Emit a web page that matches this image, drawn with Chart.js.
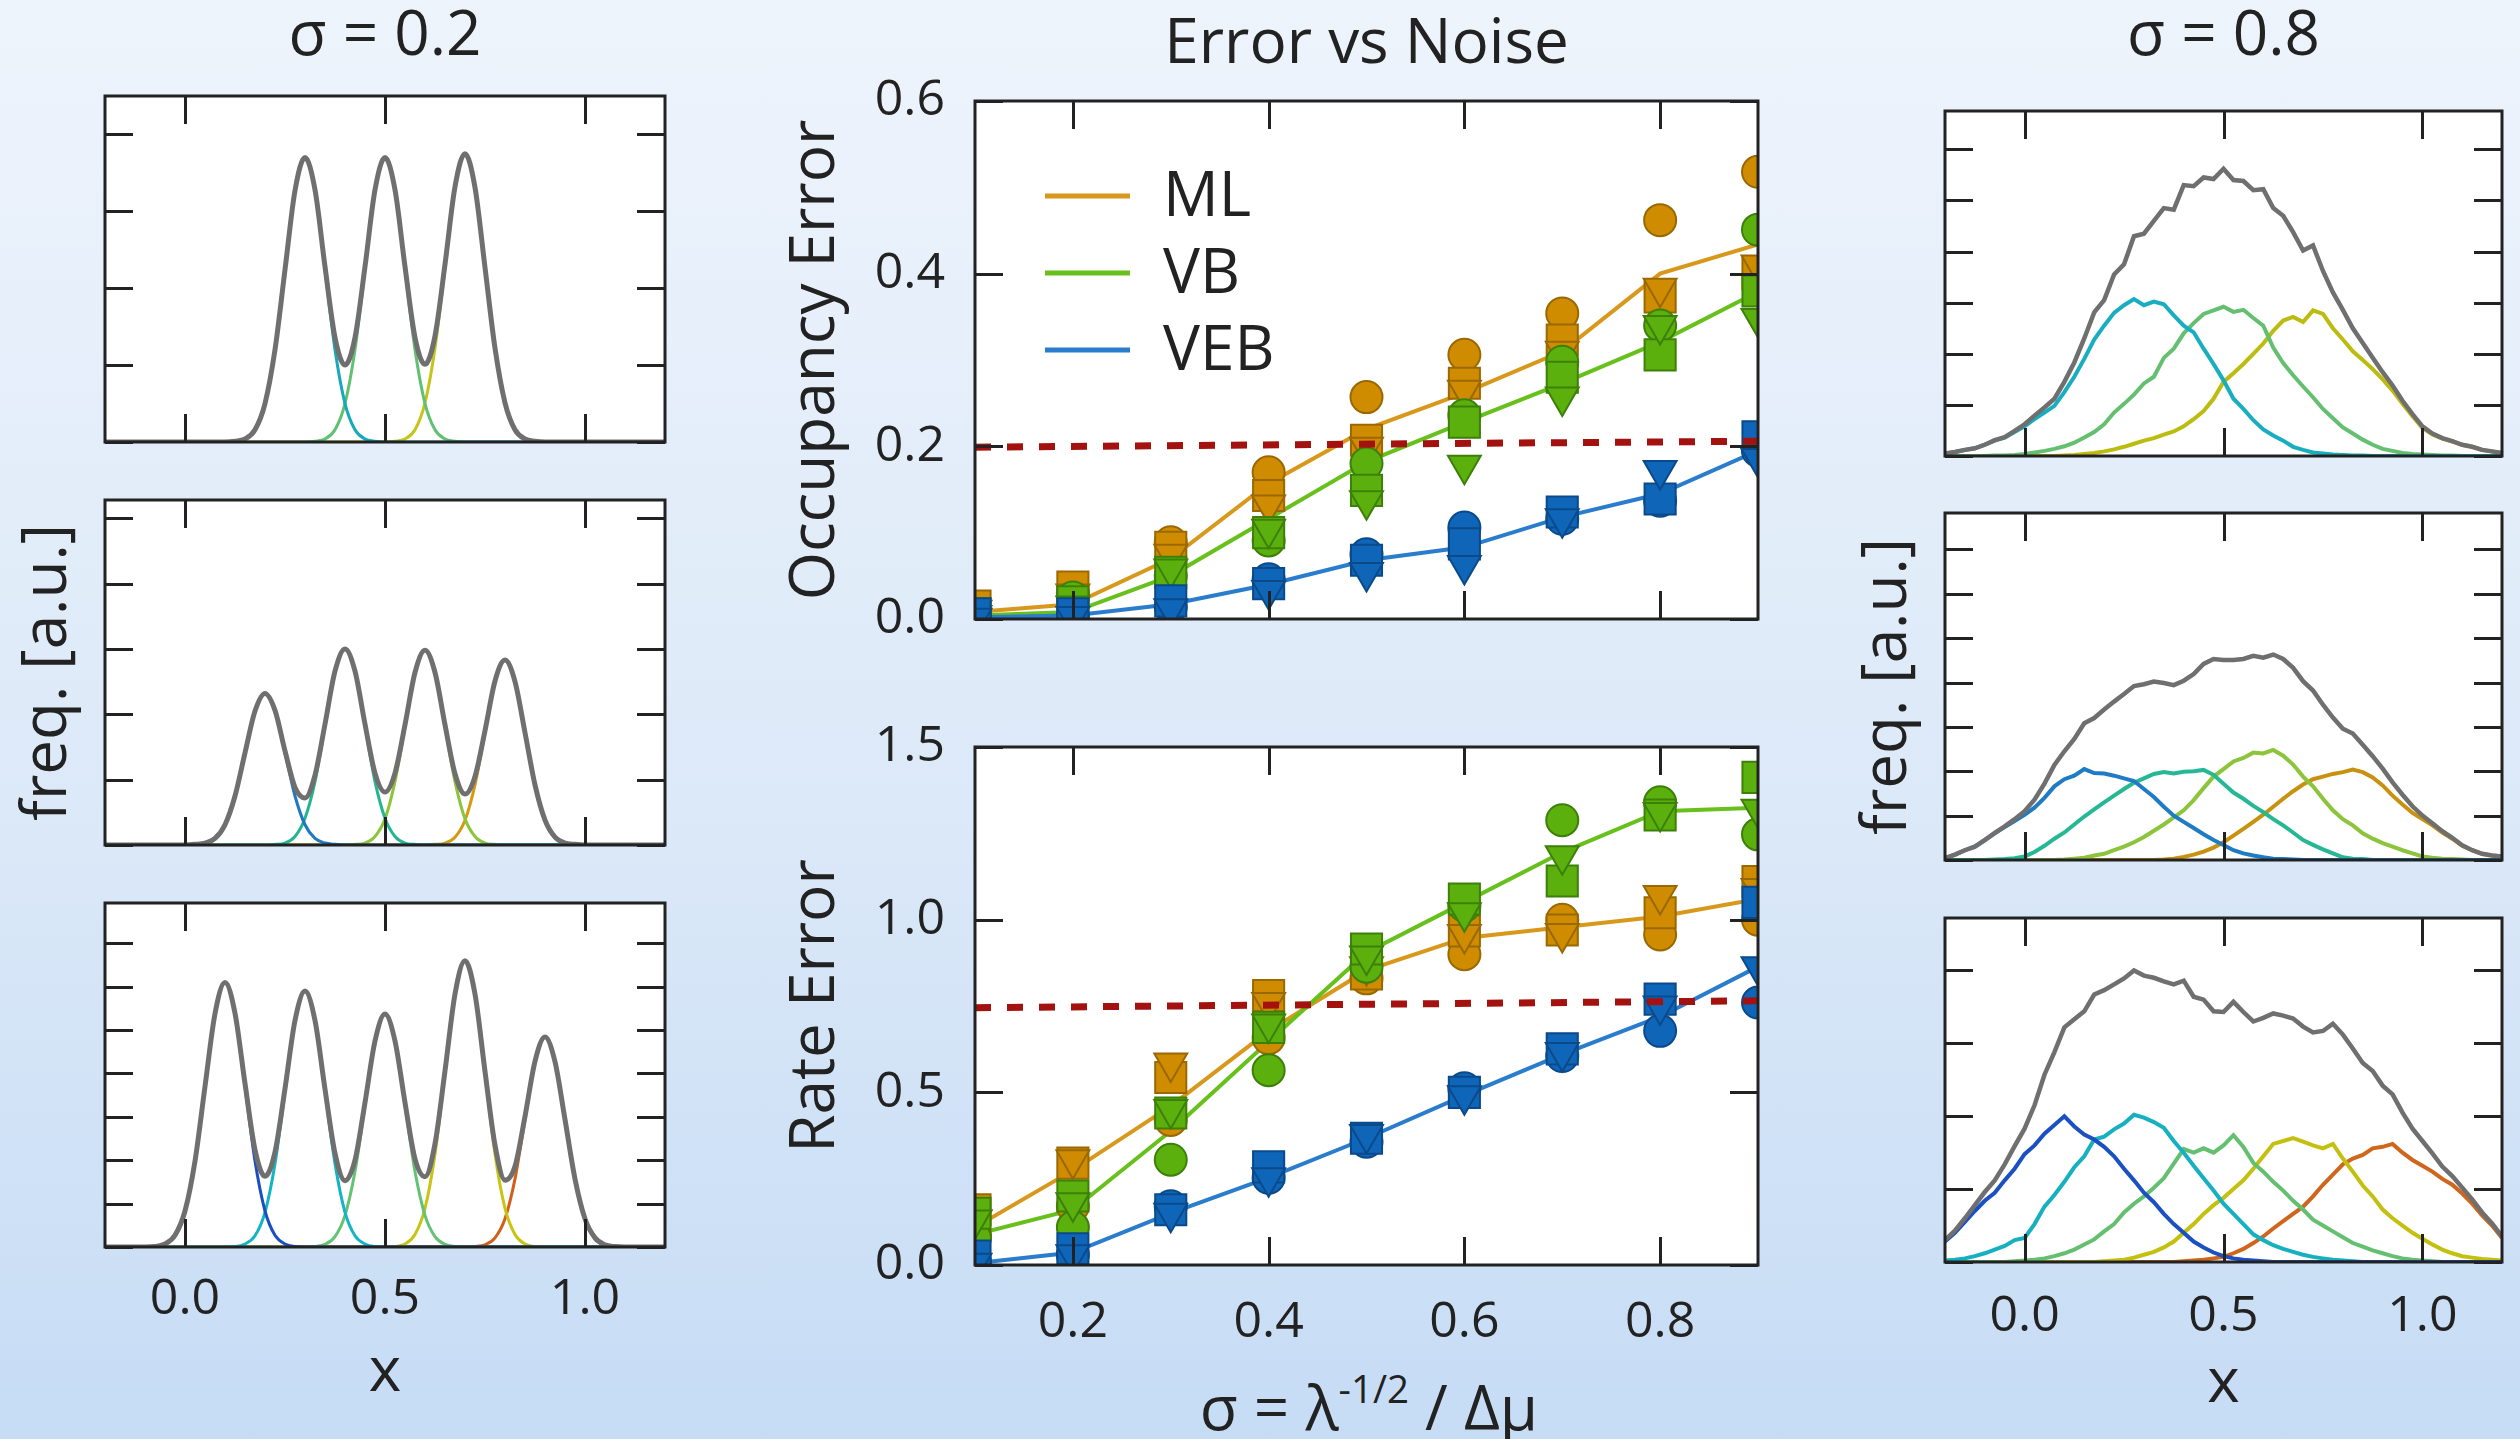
<!DOCTYPE html>
<html>
<head>
<meta charset="utf-8">
<title>Error vs Noise</title>
<script src="https://cdn.jsdelivr.net/npm/chart.js@4.4.1/dist/chart.umd.min.js"></script>
<style>
  html, body { margin: 0; padding: 0; }
  body {
    width: 2520px; height: 1439px; overflow: hidden; position: relative;
    background: linear-gradient(180deg, #eef4fc 0%, #dce9f8 55%, #c6dcf5 100%);
    font-family: "Open Sans", sans-serif; color: #222;
  }
  canvas { position: absolute; }
  .xlabel {
    position: absolute; left: 1369px; top: 1406px; transform: translate(-50%, -50%);
    font-size: 62px; white-space: nowrap; line-height: 1;
  }
  .xlabel sup { font-size: 0.62em; vertical-align: 0.7em; line-height: 0; }
</style>
</head>
<body>
<div class="xlabel">σ = λ<sup>-1/2</sup> / Δμ</div>
<script>
"use strict";

// ---------- side panels: histograms on a common x grid ----------
let SIDE_X = [-0.2,-0.175,-0.15,-0.125,-0.1,-0.075,-0.05,-0.025,0,0.025,0.05,0.075,0.1,0.125,0.15,0.175,
    0.2,0.225,0.25,0.275,0.3,0.325,0.35,0.375,0.4,0.425,0.45,0.475,0.5,0.525,0.55,0.575,
    0.6,0.625,0.65,0.675,0.7,0.725,0.75,0.775,0.8,0.825,0.85,0.875,0.9,0.925,0.95,0.975,
    1,1.025,1.05,1.075,1.1,1.125,1.15,1.175,1.2];
let SIDE_X_TICKS = [0, 0.5, 1];
let SIDE_X_LABELS = ["0.0", "0.5", "1.0"];

// sigma = 0.2, three states
let L1_SUM = [0,0,0,0,0,0,0,0,0,0,0,0,0,
    0.01,0.04,0.16,0.5,1.2,2.24,3.27,3.7,3.28,2.28,1.36,1.0,1.36,2.28,3.28,3.7,3.28,2.28,1.36,1.01,1.38,2.31,3.32,3.75,3.31,2.27,1.22,0.51,0.16,0.04,0.01,
    0,0,0,0,0,0,0,0,0,0,0,0,0];
let L1_C1 = [0,0,0,0,0,0,0,0,0,0,0,0,0,
    0.01,0.04,0.16,0.5,1.2,2.24,3.27,3.7,3.27,2.24,1.2,0.5,0.16,0.04,0.01,
    0,0,0,0,0,0,0,0,0,0,0,0,0,0,0,0,0,0,0,0,0,0,0,0,0,0,0,0,0];
let L1_C2 = [0,0,0,0,0,0,0,0,0,0,0,0,0,0,0,0,0,0,0,0,0,
    0.01,0.04,0.16,0.5,1.2,2.24,3.27,3.7,3.27,2.24,1.2,0.5,0.16,0.04,0.01,
    0,0,0,0,0,0,0,0,0,0,0,0,0,0,0,0,0,0,0,0,0];
let L1_C3 = [0,0,0,0,0,0,0,0,0,0,0,0,0,0,0,0,0,0,0,0,0,0,0,0,0,0,0,0,0,
    0.01,0.04,0.16,0.51,1.22,2.27,3.31,3.75,3.31,2.27,1.22,0.51,0.16,0.04,0.01,
    0,0,0,0,0,0,0,0,0,0,0,0,0];

// sigma = 0.2, four states
let L2_SUM = [0,0,0,0,0,0,0,0,0,
    0.01,0.03,0.1,0.31,0.75,1.41,2.05,2.32,2.06,1.44,0.88,0.72,1.07,1.85,2.66,3.0,
    2.66,1.85,1.1,0.81,1.1,1.84,2.64,2.98,2.64,1.84,1.09,0.78,1.05,1.75,2.51,2.83,
    2.5,1.72,0.92,0.38,0.12,0.03,0.01,
    0,0,0,0,0,0,0,0,0];
let L2_C1 = [0,0,0,0,0,0,0,0,0,
    0.01,0.03,0.1,0.31,0.75,1.41,2.05,2.32,2.05,1.41,0.75,0.31,0.1,0.03,0.01,
    0,0,0,0,0,0,0,0,0,0,0,0,0,0,0,0,0,0,0,0,0,0,0,0,0,0,0,0,0,0,0,0,0];
let L2_C2 = [0,0,0,0,0,0,0,0,0,0,0,0,0,0,0,0,0,
    0.01,0.03,0.13,0.41,0.97,1.82,2.65,3.0,2.65,1.82,0.97,0.41,0.13,0.03,0.01,
    0,0,0,0,0,0,0,0,0,0,0,0,0,0,0,0,0,0,0,0,0,0,0,0,0];
let L2_C3 = [0,0,0,0,0,0,0,0,0,0,0,0,0,0,0,0,0,0,0,0,0,0,0,0,0,
    0.01,0.03,0.13,0.4,0.97,1.81,2.63,2.98,2.63,1.81,0.97,0.4,0.13,0.03,0.01,
    0,0,0,0,0,0,0,0,0,0,0,0,0,0,0,0,0];
let L2_C4 = [0,0,0,0,0,0,0,0,0,0,0,0,0,0,0,0,0,0,0,0,0,0,0,0,0,0,0,0,0,0,0,0,0,
    0.01,0.03,0.12,0.38,0.92,1.72,2.5,2.83,2.5,1.72,0.92,0.38,0.12,0.03,0.01,
    0,0,0,0,0,0,0,0,0];

// sigma = 0.2, five states
let L3_SUM = [0,0,0,0,0,
    0.01,0.07,0.27,0.83,1.98,3.7,5.38,6.1,5.39,3.77,2.24,1.63,2.19,3.65,5.22,5.9,
    5.22,3.64,2.16,1.53,2.0,3.33,4.75,5.37,4.75,3.33,2.03,1.62,2.38,4.06,5.83,6.6,
    5.83,4.05,2.35,1.54,1.86,3.01,4.28,4.84,4.27,2.94,1.57,0.65,0.21,0.05,0.01,
    0,0,0,0,0];
let L3_C1 = [0,0,0,0,0,
    0.01,0.07,0.27,0.83,1.98,3.7,5.38,6.1,5.38,3.7,1.98,0.83,0.27,0.07,0.01,
    0,0,0,0,0,0,0,0,0,0,0,0,0,0,0,0,0,0,0,0,0,0,0,0,0,0,0,0,0,0,0,0,0,0,0,0,0];
let L3_C2 = [0,0,0,0,0,0,0,0,0,0,0,0,0,
    0.01,0.07,0.26,0.8,1.92,3.58,5.21,5.9,5.21,3.58,1.92,0.8,0.26,0.07,0.01,
    0,0,0,0,0,0,0,0,0,0,0,0,0,0,0,0,0,0,0,0,0,0,0,0,0,0,0,0,0];
let L3_C3 = [0,0,0,0,0,0,0,0,0,0,0,0,0,0,0,0,0,0,0,0,0,
    0.01,0.06,0.24,0.73,1.74,3.26,4.74,5.37,4.74,3.26,1.74,0.73,0.24,0.06,0.01,
    0,0,0,0,0,0,0,0,0,0,0,0,0,0,0,0,0,0,0,0,0];
let L3_C4 = [0,0,0,0,0,0,0,0,0,0,0,0,0,0,0,0,0,0,0,0,0,0,0,0,0,0,0,0,0,
    0.01,0.07,0.29,0.89,2.14,4.0,5.82,6.6,5.82,4.0,2.14,0.89,0.29,0.07,0.01,
    0,0,0,0,0,0,0,0,0,0,0,0,0];
let L3_C5 = [0,0,0,0,0,0,0,0,0,0,0,0,0,0,0,0,0,0,0,0,0,0,0,0,0,0,0,0,0,0,0,0,0,0,0,0,0,
    0.01,0.05,0.21,0.65,1.57,2.94,4.27,4.84,4.27,2.94,1.57,0.65,0.21,0.05,0.01,
    0,0,0,0,0];

// sigma = 0.8, three states
let R1_SUM = [0.05,0.08,0.12,0.15,0.22,0.31,0.37,0.49, 0.62,0.79,0.95,1.12,1.45,1.83,2.3,2.81,
    3.05,3.55,3.75,4.3,4.35,4.6,4.85,4.82, 5.3,5.28,5.45,5.42,5.62,5.4,5.38,5.2,
    5.22,4.85,4.7,4.38,4.02,4.12,3.62,3.2, 2.86,2.5,2.21,1.92,1.64,1.38,1.08,0.82,
    0.58,0.44,0.35,0.29,0.22,0.18,0.12,0.09,0.06];
let R1_C1 = [0.05,0.08,0.12,0.15,0.22,0.3,0.36,0.47, 0.58,0.72,0.85,0.98,1.25,1.55,1.9,2.28,
    2.55,2.8,2.95,3.07,2.95,3.02,2.97,2.75, 2.55,2.42,2.1,1.8,1.48,1.12,0.92,0.7,
    0.52,0.4,0.3,0.18,0.12,0.07,0.05,0.03, 0.02,0.01,0.01,0,0,0,0,0,
    0,0,0,0,0,0,0,0,0];
let R1_C2 = [0,0,0,0,0,0.01,0.01,0.02, 0.04,0.07,0.1,0.14,0.19,0.26,0.36,0.47,
    0.62,0.85,1.02,1.2,1.42,1.55,1.92,2.1, 2.4,2.6,2.78,2.85,2.92,2.82,2.86,2.7,
    2.55,2.12,1.82,1.58,1.36,1.15,0.92,0.74, 0.56,0.44,0.32,0.22,0.14,0.1,0.06,0.04,
    0.03,0.02,0.01,0.01,0,0,0,0,0];
let R1_C3 = [0,0,0,0,0,0,0,0, 0,0,0,0,0.01,0.02,0.04,0.06,
    0.09,0.13,0.18,0.24,0.3,0.35,0.42,0.48, 0.58,0.72,0.88,1.12,1.45,1.62,1.8,2.0,
    2.2,2.45,2.65,2.72,2.62,2.85,2.78,2.5, 2.28,2.05,1.88,1.7,1.5,1.28,1.02,0.78,
    0.55,0.42,0.34,0.28,0.22,0.18,0.12,0.09,0.06];

// sigma = 0.8, four states
let R2_SUM = [0.04,0.12,0.22,0.3,0.45,0.61,0.76,0.92, 1.1,1.36,1.72,2.14,2.45,2.73,3.08,3.2,
    3.39,3.57,3.74,3.92,3.96,4.02,3.99,3.94, 4.04,4.19,4.42,4.53,4.51,4.51,4.53,4.6,
    4.56,4.63,4.53,4.33,4.03,3.82,3.5,3.21, 2.96,2.85,2.6,2.34,2.06,1.75,1.47,1.21,
    1.0,0.83,0.65,0.5,0.33,0.22,0.14,0.1,0.08];
let R2_C1 = [0.04,0.12,0.22,0.3,0.45,0.6,0.74,0.88, 1.02,1.18,1.4,1.66,1.82,1.9,2.05,1.96,
    1.95,1.9,1.84,1.78,1.6,1.42,1.2,1.0, 0.86,0.72,0.58,0.45,0.34,0.22,0.15,0.1,
    0.06,0.03,0.02,0.01,0,0,0,0, 0,0,0,0,0,0,0,0,
    0,0,0,0,0,0,0,0,0];
let R2_C2 = [0,0,0,0,0,0.01,0.02,0.04, 0.08,0.18,0.32,0.48,0.62,0.8,0.98,1.14,
    1.3,1.45,1.6,1.74,1.84,1.94,1.98,1.95, 1.99,2.0,2.03,1.92,1.72,1.52,1.38,1.22,
    1.08,0.92,0.78,0.62,0.45,0.34,0.24,0.15, 0.06,0.03,0.02,0,0,0,0,0,
    0,0,0,0,0,0,0,0,0];
let R2_C3 = [0,0,0,0,0,0,0,0, 0,0,0,0,0.01,0.03,0.05,0.1,
    0.14,0.22,0.3,0.4,0.52,0.66,0.8,0.96, 1.12,1.35,1.62,1.88,2.05,2.22,2.3,2.42,
    2.4,2.48,2.35,2.15,1.88,1.66,1.38,1.12, 0.92,0.78,0.6,0.48,0.38,0.3,0.22,0.15,
    0.08,0.05,0.03,0.02,0.01,0,0,0,0];
let R2_C4 = [0,0,0,0,0,0,0,0, 0,0,0,0,0,0,0,0,
    0,0,0,0,0,0,0.01,0.03, 0.07,0.12,0.19,0.28,0.4,0.55,0.7,0.86,
    1.02,1.2,1.38,1.55,1.7,1.82,1.88,1.94, 1.98,2.04,1.98,1.86,1.68,1.45,1.25,1.06,
    0.92,0.78,0.62,0.48,0.32,0.22,0.14,0.1,0.08];

// sigma = 0.8, five states
let R3_SUM = [0.3,0.43,0.6,0.78,0.96,1.12,1.34,1.59, 1.83,2.15,2.57,2.88,3.22,3.33,3.44,3.67,
    3.73,3.81,3.89,4.0,3.93,3.9,3.85,3.81, 3.86,3.64,3.6,3.44,3.43,3.57,3.43,3.3,
    3.35,3.41,3.38,3.34,3.23,3.15,3.17,3.27, 3.12,2.93,2.73,2.62,2.42,2.3,2.05,1.83,
    1.66,1.49,1.31,1.18,1.02,0.86,0.68,0.53,0.35];
let R3_C1 = [0.28,0.4,0.55,0.7,0.84,0.95,1.12,1.28, 1.48,1.6,1.76,1.88,2.0,1.86,1.75,1.68,
    1.58,1.45,1.28,1.12,0.95,0.82,0.66,0.52, 0.4,0.28,0.2,0.13,0.08,0.05,0.03,0.02,
    0.01,0,0,0,0,0,0,0, 0,0,0,0,0,0,0,0,
    0,0,0,0,0,0,0,0,0];
let R3_C2 = [0.02,0.03,0.05,0.08,0.12,0.17,0.22,0.3, 0.33,0.52,0.76,0.92,1.1,1.3,1.45,1.68,
    1.72,1.82,1.9,2.02,1.98,1.92,1.84,1.66, 1.5,1.32,1.15,0.98,0.8,0.66,0.52,0.38,
    0.3,0.23,0.18,0.14,0.1,0.07,0.05,0.03, 0.02,0.01,0,0,0,0,0,0,
    0,0,0,0,0,0,0,0,0];
let R3_C3 = [0,0,0,0,0,0,0,0.01, 0.02,0.03,0.05,0.08,0.12,0.17,0.24,0.31,
    0.42,0.52,0.68,0.8,0.9,1.02,1.15,1.35, 1.55,1.5,1.56,1.5,1.6,1.74,1.58,1.36,
    1.24,1.1,0.98,0.84,0.72,0.58,0.5,0.42, 0.34,0.26,0.21,0.16,0.12,0.08,0.05,0.03,
    0.02,0.01,0,0,0,0,0,0,0];
let R3_C4 = [0,0,0,0,0,0,0,0, 0,0,0,0,0,0,0,0,
    0.01,0.02,0.03,0.06,0.1,0.14,0.2,0.28, 0.4,0.52,0.66,0.78,0.88,1.0,1.12,1.28,
    1.45,1.62,1.66,1.7,1.65,1.6,1.56,1.62, 1.42,1.24,1.05,0.9,0.72,0.6,0.5,0.4,
    0.32,0.24,0.17,0.12,0.08,0.06,0.04,0.03,0.02];
let R3_C5 = [0,0,0,0,0,0,0,0, 0,0,0,0,0,0,0,0,
    0,0,0,0,0,0,0,0, 0.01,0.02,0.03,0.05,0.07,0.12,0.18,0.26,
    0.35,0.46,0.56,0.66,0.76,0.9,1.06,1.2, 1.34,1.42,1.47,1.56,1.58,1.62,1.5,1.4,
    1.32,1.24,1.14,1.06,0.94,0.8,0.64,0.5,0.33];

// ---------- middle panels: error vs noise ----------
let SIGMA = [0.1, 0.2, 0.3, 0.4, 0.5, 0.6, 0.7, 0.8, 0.9];
let SIGMA_TICKS = [0.2, 0.4, 0.6, 0.8];
let SIGMA_LABELS = ["0.2", "0.4", "0.6", "0.8"];
let OCC_TICKS = [0, 0.2, 0.4, 0.6];
let OCC_LABELS = ["0.0", "0.2", "0.4", "0.6"];
let RATE_TICKS = [0, 0.5, 1.0, 1.5];
let RATE_LABELS = ["0.0", "0.5", "1.0", "1.5"];

let OCC_ML_MEAN  = [0.008, 0.017, 0.07, 0.157, 0.22, 0.262, 0.31, 0.40, 0.434];
let OCC_ML_CIRC  = [0.008, 0.03, 0.089, 0.17, 0.257, 0.306, 0.354, 0.462, 0.518];
let OCC_ML_SQR   = [0.015, 0.037, 0.083, 0.143, 0.207, 0.273, 0.323, 0.373, 0.40];
let OCC_ML_TRI   = [0.010, 0.029, 0.075, 0.132, 0.199, 0.265, 0.31, 0.383, 0.41];
let OCC_VB_MEAN  = [0.004, 0.008, 0.05, 0.116, 0.182, 0.228, 0.273, 0.321, 0.379];
let OCC_VB_CIRC  = [0.004, 0.025, 0.05, 0.091, 0.18, 0.236, 0.298, 0.34, 0.451];
let OCC_VB_SQR   = [0.006, 0.02, 0.054, 0.10, 0.149, 0.228, 0.28, 0.306, 0.38];
let OCC_VB_TRI   = [0.004, 0.015, 0.058, 0.104, 0.137, 0.178, 0.257, 0.34, 0.348];
let OCC_VEB_MEAN = [0.002, 0.004, 0.017, 0.04, 0.068, 0.083, 0.118, 0.145, 0.195];
let OCC_VEB_CIRC = [0.002, 0.004, 0.014, 0.046, 0.075, 0.106, 0.116, 0.137, 0.195];
let OCC_VEB_SQR  = [0.006, 0.006, 0.021, 0.041, 0.068, 0.087, 0.124, 0.139, 0.211];
let OCC_VEB_TRI  = [0.001, 0.003, 0.012, 0.033, 0.054, 0.062, 0.116, 0.172, 0.186];
let OCC_LIMIT    = [0.199, 0.206];

let RATE_ML_MEAN  = [0.109, 0.274, 0.46, 0.678, 0.853, 0.947, 0.978, 1.009, 1.06];
let RATE_ML_CIRC  = [0.088, 0.17, 0.42, 0.657, 0.83, 0.90, 1.0, 0.957, 1.0];
let RATE_ML_SQR   = [0.16, 0.295, 0.543, 0.78, 0.843, 0.967, 0.97, 1.02, 1.11];
let RATE_ML_TRI   = [0.13, 0.305, 0.585, 0.76, 0.864, 0.957, 0.96, 1.07, 1.09];
let RATE_VB_MEAN  = [0.088, 0.16, 0.388, 0.647, 0.905, 1.05, 1.195, 1.314, 1.324];
let RATE_VB_CIRC  = [0.078, 0.109, 0.305, 0.564, 0.864, 1.04, 1.288, 1.34, 1.247];
let RATE_VB_SQR   = [0.15, 0.20, 0.44, 0.688, 0.915, 1.06, 1.112, 1.303, 1.412];
let RATE_VB_TRI   = [0.13, 0.18, 0.45, 0.698, 0.895, 1.02, 1.185, 1.31, 1.32];
let RATE_VEB_MEAN = [0.005, 0.036, 0.15, 0.253, 0.367, 0.491, 0.61, 0.719, 0.864];
let RATE_VEB_CIRC = [0.01, 0.03, 0.17, 0.253, 0.357, 0.512, 0.605, 0.678, 0.76];
let RATE_VEB_SQR  = [0.026, 0.047, 0.16, 0.284, 0.367, 0.50, 0.626, 0.77, 1.05];
let RATE_VEB_TRI  = [0.005, 0.03, 0.15, 0.253, 0.378, 0.49, 0.615, 0.75, 0.864];
let RATE_LIMIT    = [0.745, 0.765];

// ---------- styling ----------
let GRAY = "#6f6f6f";
let INK = "#222222";
let METHODS = [
    { name: "ML",  line: "#d8981c", fill: "#d08c00", edge: "#9a6800" },
    { name: "VB",  line: "#68c01c", fill: "#5cb00e", edge: "#3c8008" },
    { name: "VEB", line: "#2a7ccc", fill: "#0f66b8", edge: "#0a4a8a" }
];

Chart.defaults.font.family = "'Open Sans', sans-serif";
Chart.defaults.color = INK;

[L1_SUM, L1_C1, L1_C2, L1_C3, L2_SUM, L2_C1, L2_C2, L2_C3, L2_C4,
 L3_SUM, L3_C1, L3_C2, L3_C3, L3_C4, L3_C5, R1_SUM, R1_C1, R1_C2, R1_C3,
 R2_SUM, R2_C1, R2_C2, R2_C3, R2_C4, R3_SUM, R3_C1, R3_C2, R3_C3, R3_C4, R3_C5].forEach(function(a, i) {
    if (a.length !== SIDE_X.length) {
        throw new Error("series " + i + " has " + a.length + " values");
    }
});

// white plot area, box and inward ticks on all four sides
let plotFrame = {
    id: "plotFrame",
    beforeDraw: function(chart) {
        let a = chart.chartArea;
        let ctx = chart.ctx;
        ctx.save();
        ctx.fillStyle = "#ffffff";
        ctx.fillRect(a.left, a.top, a.right - a.left, a.bottom - a.top);
        ctx.restore();
    },
    afterDraw: function(chart) {
        let a = chart.chartArea;
        let ctx = chart.ctx;
        let len = 28;
        let xs = chart.scales.x;
        let ys = chart.scales.y;
        ctx.save();
        ctx.strokeStyle = INK;
        ctx.lineWidth = 3;
        ctx.beginPath();
        xs.ticks.forEach(function(t) {
            let p = Math.round(xs.getPixelForValue(t.value)) + 0.5;
            ctx.moveTo(p, a.bottom); ctx.lineTo(p, a.bottom - len);
            ctx.moveTo(p, a.top); ctx.lineTo(p, a.top + len);
        });
        ys.ticks.forEach(function(t) {
            let p = Math.round(ys.getPixelForValue(t.value)) + 0.5;
            ctx.moveTo(a.left, p); ctx.lineTo(a.left + len, p);
            ctx.moveTo(a.right, p); ctx.lineTo(a.right - len, p);
        });
        ctx.stroke();
        ctx.strokeRect(a.left, a.top, a.right - a.left, a.bottom - a.top);
        ctx.restore();
    }
};

// line key drawn inside the plot, top left
let lineKey = {
    id: "lineKey",
    afterDatasetsDraw: function(chart) {
        let keyed = chart.data.datasets.filter(function(d) { return d.keyed; });
        if (!keyed.length) return;
        let a = chart.chartArea;
        let ctx = chart.ctx;
        ctx.save();
        ctx.font = "62px 'Open Sans', sans-serif";
        ctx.textBaseline = "middle";
        keyed.forEach(function(d, i) {
            let y = a.top + 95 + i * 77;
            ctx.strokeStyle = d.borderColor;
            ctx.lineWidth = 5;
            ctx.beginPath();
            ctx.moveTo(a.left + 70, y);
            ctx.lineTo(a.left + 155, y);
            ctx.stroke();
            ctx.fillStyle = INK;
            ctx.fillText(d.label, a.left + 188, y + 2);
        });
        ctx.restore();
    }
};

Chart.register(plotFrame, lineKey);

function makeCanvas(left, top, width, height) {
    let c = document.createElement("canvas");
    c.width = width;
    c.height = height;
    c.style.left = left + "px";
    c.style.top = top + "px";
    c.style.width = width + "px";
    c.style.height = height + "px";
    document.body.appendChild(c);
    return c;
}

function fixedTicks(values) {
    return function(scale) {
        scale.ticks = values.map(function(v) { return { value: v }; });
    };
}

function axisTitle(text, pad) {
    if (!text) return { display: false };
    return { display: true, text: text, color: INK, font: { size: 62 }, padding: pad };
}

function chartTitle(text, top, bottom) {
    if (!text) return { display: false };
    return { display: true, fullSize: false, text: text, color: INK,
             font: { size: 62, weight: "normal" }, padding: { top: top, bottom: bottom } };
}

function sideChart(box, cfg) {
    let el = makeCanvas(box.left, box.top, box.width, box.height);
    // first dataset is drawn on top, so the total goes first
    let sets = [{ label: "total", data: cfg.total, borderColor: GRAY, borderWidth: cfg.smooth ? 5 : 4.5 }];
    cfg.comps.forEach(function(c, i) {
        sets.push({ label: "state " + (i + 1), data: c, borderColor: cfg.colors[i], borderWidth: cfg.smooth ? 3 : 4 });
    });
    sets.forEach(function(s) {
        s.pointRadius = 0;
        s.fill = false;
        s.clip = 0;
        s.tension = 0;
        if (cfg.smooth) s.cubicInterpolationMode = "monotone";
    });
    return new Chart(el, {
        type: "line",
        data: { labels: SIDE_X, datasets: sets },
        options: {
            responsive: false,
            animation: false,
            events: [],
            layout: { padding: { left: 0, top: box.padTop, right: box.padRight, bottom: 0 } },
            plugins: {
                legend: { display: false },
                tooltip: { enabled: false },
                title: chartTitle(cfg.title, 0, box.titleGap)
            },
            scales: {
                x: {
                    type: "linear", min: -0.2, max: 1.2,
                    afterBuildTicks: fixedTicks(SIDE_X_TICKS),
                    afterFit: function(s) { s.height = box.xHeight; },
                    grid: { display: false, drawTicks: false },
                    border: { display: false },
                    ticks: {
                        display: !!cfg.xLabels, padding: box.xPad, maxRotation: 0, autoSkip: false,
                        font: { size: 50 },
                        callback: function(v, i) { return SIDE_X_LABELS[i]; }
                    },
                    title: axisTitle(cfg.xTitle, { top: 0, bottom: 0 })
                },
                y: {
                    min: 0, max: cfg.yMax,
                    afterBuildTicks: fixedTicks(cfg.yTicks),
                    afterFit: function(s) { s.width = box.yWidth; },
                    grid: { display: false, drawTicks: false },
                    border: { display: false },
                    ticks: { display: false },
                    title: axisTitle(cfg.yTitle, { top: box.yTitlePad, bottom: 0 })
                }
            }
        }
    });
}

function markerSets(method, circ, sqr, tri) {
    let m = METHODS[method];
    let shapes = [
        { data: circ, style: "circle", radius: 16, rot: 0 },
        { data: sqr, style: "rect", radius: 22, rot: 0 },
        { data: tri, style: "triangle", radius: 19, rot: 180 }
    ];
    return shapes.map(function(s) {
        return {
            label: m.name + " " + s.style,
            data: SIGMA.map(function(x, i) { return { x: x, y: s.data[i] }; }),
            showLine: false,
            pointStyle: s.style,
            pointRadius: s.radius,
            pointRotation: s.rot,
            pointBackgroundColor: m.fill,
            pointBorderColor: m.edge,
            pointBorderWidth: 2,
            clip: 0
        };
    });
}

function meanSet(method, values) {
    let m = METHODS[method];
    return {
        label: m.name,
        keyed: true,
        data: SIGMA.map(function(x, i) { return { x: x, y: values[i] }; }),
        borderColor: m.line,
        borderWidth: 4,
        pointRadius: 0,
        tension: 0,
        clip: 0
    };
}

function limitSet(values) {
    return {
        label: "limit",
        data: [{ x: SIGMA[0], y: values[0] }, { x: SIGMA[SIGMA.length - 1], y: values[1] }],
        borderColor: "#a3120f",
        borderWidth: 7,
        borderDash: [16, 16],
        borderCapStyle: "butt",
        pointRadius: 0,
        clip: 0
    };
}

function errorChart(box, cfg) {
    let el = makeCanvas(box.left, box.top, box.width, box.height);
    // listed bottom to top; a higher order is drawn earlier
    let sets = [];
    cfg.means.forEach(function(v, i) { sets.push(meanSet(i, v)); });
    cfg.markers.forEach(function(g, i) { sets = sets.concat(markerSets(i, g[0], g[1], g[2])); });
    sets.push(limitSet(cfg.limit));
    sets.forEach(function(s, i) {
        s.order = sets.length - i;
        if (!cfg.key) s.keyed = false;
    });
    return new Chart(el, {
        type: "line",
        data: { datasets: sets },
        options: {
            responsive: false,
            animation: false,
            events: [],
            layout: { padding: { left: 0, top: box.padTop, right: box.padRight, bottom: 0 } },
            plugins: {
                legend: { display: false },
                tooltip: { enabled: false },
                title: chartTitle(cfg.title, box.titleTop, box.titleGap)
            },
            scales: {
                x: {
                    type: "linear", min: 0.1, max: 0.9,
                    afterBuildTicks: fixedTicks(SIGMA_TICKS),
                    afterFit: function(s) { s.height = box.xHeight; },
                    grid: { display: false, drawTicks: false },
                    border: { display: false },
                    ticks: {
                        display: !!cfg.xLabels, padding: box.xPad, maxRotation: 0, autoSkip: false,
                        font: { size: 50 },
                        callback: function(v, i) { return SIGMA_LABELS[i]; }
                    }
                },
                y: {
                    min: cfg.yTicks[0], max: cfg.yTicks[cfg.yTicks.length - 1],
                    afterBuildTicks: fixedTicks(cfg.yTicks),
                    afterFit: function(s) { s.width = box.yWidth; },
                    grid: { display: false, drawTicks: false },
                    border: { display: false },
                    ticks: {
                        padding: 30, font: { size: 50 },
                        callback: function(v, i) { return cfg.yLabels[i]; }
                    },
                    title: axisTitle(cfg.yTitle, { top: 18.8, bottom: 0 })
                }
            }
        }
    });
}

// ---------- left column: sigma = 0.2 ----------
let LEFT = { left: 0, width: 690, padRight: 25, yWidth: 105, yTitlePad: 10.8 };
sideChart(Object.assign({}, LEFT, { top: 0, height: 452, padTop: 0, titleGap: 21.6, xHeight: 10, xPad: 0 }),
    { title: "σ = 0.2", total: L1_SUM, comps: [L1_C1, L1_C2, L1_C3],
      colors: ["#17a9ba", "#62c072", "#c4c41a"], yMax: 4.5, yTicks: [0, 1, 2, 3, 4], smooth: true });
sideChart(Object.assign({}, LEFT, { top: 480, height: 375, padTop: 20, xHeight: 10, xPad: 0 }),
    { yTitle: "freq. [a.u.]", total: L2_SUM, comps: [L2_C1, L2_C2, L2_C3, L2_C4],
      colors: ["#1f78c4", "#25b594", "#8cc43a", "#d49a12"], yMax: 5.28, yTicks: [0, 1, 2, 3, 4, 5], smooth: true });
sideChart(Object.assign({}, LEFT, { top: 883, height: 528, padTop: 20, xHeight: 164, xPad: 23 }),
    { xTitle: "x", xLabels: true, total: L3_SUM, comps: [L3_C1, L3_C2, L3_C3, L3_C4, L3_C5],
      colors: ["#1a4fc4", "#14b4c4", "#64c274", "#c8c414", "#d2601a"], yMax: 7.93,
      yTicks: [0, 1, 2, 3, 4, 5, 6, 7], smooth: true });

// ---------- middle column ----------
let MID = { left: 760, width: 1023, padRight: 25, yWidth: 215 };
errorChart(Object.assign({}, MID, { top: 0, height: 683, padTop: 0, titleTop: 7.8, titleGap: 18.8, xHeight: 64, xPad: 0 }),
    { title: "Error vs Noise", key: true, yTitle: "Occupancy Error", yTicks: OCC_TICKS, yLabels: OCC_LABELS,
      means: [OCC_ML_MEAN, OCC_VB_MEAN, OCC_VEB_MEAN],
      markers: [[OCC_ML_CIRC, OCC_ML_SQR, OCC_ML_TRI], [OCC_VB_CIRC, OCC_VB_SQR, OCC_VB_TRI],
                [OCC_VEB_CIRC, OCC_VEB_SQR, OCC_VEB_TRI]],
      limit: OCC_LIMIT });
errorChart(Object.assign({}, MID, { top: 683, height: 682, padTop: 64, titleTop: 0, titleGap: 0, xHeight: 100, xPad: 28 }),
    { key: false, xLabels: true, yTitle: "Rate Error", yTicks: RATE_TICKS, yLabels: RATE_LABELS,
      means: [RATE_ML_MEAN, RATE_VB_MEAN, RATE_VEB_MEAN],
      markers: [[RATE_ML_CIRC, RATE_ML_SQR, RATE_ML_TRI], [RATE_VB_CIRC, RATE_VB_SQR, RATE_VB_TRI],
                [RATE_VEB_CIRC, RATE_VEB_SQR, RATE_VEB_TRI]],
      limit: RATE_LIMIT });

// ---------- right column: sigma = 0.8 ----------
let RIGHT = { left: 1830, width: 690, padRight: 18, yWidth: 115, yTitlePad: 20.8 };
sideChart(Object.assign({}, RIGHT, { top: 0, height: 466, padTop: 0, titleGap: 36.6, xHeight: 10, xPad: 0 }),
    { title: "σ = 0.8", total: R1_SUM, comps: [R1_C1, R1_C2, R1_C3],
      colors: ["#18aec0", "#64c070", "#bcbc10"], yMax: 6.75, yTicks: [0, 1, 2, 3, 4, 5, 6] });
sideChart(Object.assign({}, RIGHT, { top: 493, height: 377, padTop: 20, xHeight: 10, xPad: 0 }),
    { yTitle: "freq. [a.u.]", total: R2_SUM, comps: [R2_C1, R2_C2, R2_C3, R2_C4],
      colors: ["#1f7bc4", "#26b894", "#8cc43c", "#c89210"], yMax: 7.82, yTicks: [0, 1, 2, 3, 4, 5, 6, 7] });
sideChart(Object.assign({}, RIGHT, { top: 898, height: 524, padTop: 20, xHeight: 160, xPad: 25 }),
    { xTitle: "x", xLabels: true, total: R3_SUM, comps: [R3_C1, R3_C2, R3_C3, R3_C4, R3_C5],
      colors: ["#1a50c2", "#16b0c0", "#64c070", "#c4c010", "#d0661c"], yMax: 4.72, yTicks: [0, 1, 2, 3, 4] });
</script>
</body>
</html>
